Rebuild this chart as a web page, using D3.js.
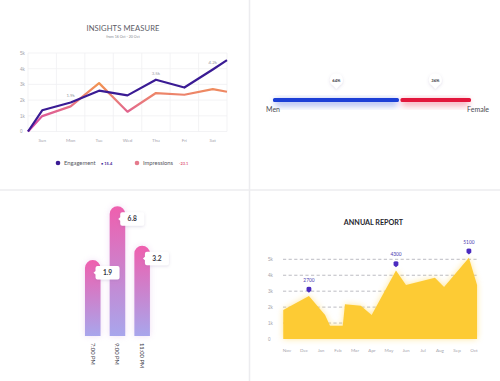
<!DOCTYPE html>
<html>
<head>
<meta charset="utf-8">
<script src="https://cdn.jsdelivr.net/npm/d3@7"></script>
<style>
  html, body { margin: 0; padding: 0; background: #ffffff; }
  svg { display: block; font-family: Lato, "Open Sans", sans-serif; }
</style>
</head>
<body>
<div id="chart"></div>
<script>
// insights measure (top left)
const days = ["Sun", "Mon", "Tue", "Wed", "Thu", "Fri", "Sat"];
const insightSteps = [0, 0.5, 1.5, 2.5, 3.5, 4.5, 5.5, 6.5, 7];
const engagement = [0, 1.35, 1.85, 2.6, 2.3, 3.3, 2.8, 3.95, 4.55];
const impressions = [0, 0.98, 1.6, 3.08, 1.26, 2.45, 2.34, 2.7, 2.53];
const insightTicks = [0, 1, 2, 3, 4, 5];
const insightNotes = [
  { step: 1.5, value: 1.85, label: "1.9k" },
  { step: 4.5, value: 3.3, label: "3.5k" },
  { step: 6.5, value: 3.95, label: "4.2k" }
];
const legendItems = [
  { name: "Engagement", delta: "15.4" },
  { name: "Impressions", delta: "-23.1" }
];

// gender split (top right)
const genders = ["Men", "Female"];
const genderShares = [64, 36];

// evening bars (bottom left)
const times = ["7:00 PM", "9:00 PM", "11:00 PM"];
const timeValues = [1.9, 6.8, 3.2];

// annual report (bottom right)
const months = ["Nov", "Dec", "Jan", "Feb", "Mar", "Apr", "May", "Jun", "Jul", "Aug", "Sep", "Oct"];
const annualSteps = [-0.22, 1.29, 2.24, 2.53, 3.28, 3.41, 4.34, 4.98, 6.41, 7.0, 8.7, 9.24, 10.7, 11.18];
const annualValues = [1.82, 2.7, 1.5, 0.83, 0.83, 2.18, 2.09, 1.5, 4.3, 3.39, 3.85, 3.26, 5.1, 3.39];
const annualTicks = [0, 1, 2, 3, 4, 5];
const annualPeaks = [
  { index: 1, label: "2700" },
  { index: 8, label: "4300" },
  { index: 12, label: "5100" }
];

const kLabel = (v) => v === 0 ? "0" : `${v}k`;

const svg = d3.select("#chart")
  .append("svg")
  .attr("width", 500)
  .attr("height", 381);

const defs = svg.append("defs");

function blurFilter(id, dev) {
  defs.append("filter")
    .attr("id", id)
    .attr("x", "-50%").attr("y", "-50%")
    .attr("width", "200%").attr("height", "200%")
    .append("feGaussianBlur")
    .attr("stdDeviation", dev);
}
blurFilter("soft", 3);
blurFilter("softer", 2);

const shadow = defs.append("filter")
  .attr("id", "cardShadow")
  .attr("x", "-60%").attr("y", "-60%")
  .attr("width", "220%").attr("height", "220%");
shadow.append("feDropShadow")
  .attr("dx", 0).attr("dy", 1)
  .attr("stdDeviation", 1.6)
  .attr("flood-color", "#7a6aa0")
  .attr("flood-opacity", 0.22);

// panel separators
svg.append("line")
  .attr("x1", 249.5).attr("x2", 249.5)
  .attr("y1", 0).attr("y2", 381)
  .attr("stroke", "#ececef").attr("stroke-width", 1.5);
svg.append("line")
  .attr("x1", 0).attr("x2", 500)
  .attr("y1", 190).attr("y2", 190)
  .attr("stroke", "#ececef").attr("stroke-width", 1.5);

// ---------- INSIGHTS MEASURE ----------
{
  const g = svg.append("g");
  const x = d3.scaleLinear().domain([0, 7]).range([28, 227]);
  const y = d3.scaleLinear().domain([0, 5]).range([131.5, 53]);

  g.append("text")
    .attr("x", 123).attr("y", 31)
    .attr("text-anchor", "middle")
    .attr("font-size", 7.6).attr("fill", "#5c5c66")
    .attr("letter-spacing", 0.1)
    .text("INSIGHTS MEASURE");
  g.append("text")
    .attr("x", 123).attr("y", 37.5)
    .attr("text-anchor", "middle")
    .attr("font-size", 3.6).attr("fill", "#8a8a92")
    .text("from 16 Oct - 20 Oct");

  // grid
  g.append("g")
    .selectAll("line")
    .data(insightTicks)
    .join("line")
    .attr("x1", x(0)).attr("x2", x(7))
    .attr("y1", (d) => y(d)).attr("y2", (d) => y(d))
    .attr("stroke", "#f0f0f3").attr("stroke-width", 0.8);
  g.append("g")
    .selectAll("line")
    .data(d3.range(0, 8))
    .join("line")
    .attr("x1", (d) => x(d)).attr("x2", (d) => x(d))
    .attr("y1", y(5)).attr("y2", y(0))
    .attr("stroke", "#f0f0f3").attr("stroke-width", 0.8);

  g.append("g")
    .attr("transform", `translate(${x(0) - 8},0)`)
    .call(d3.axisLeft(y).tickValues(insightTicks).tickFormat(kLabel).tickSize(0))
    .call((a) => a.select(".domain").remove())
    .call((a) => a.selectAll("text")
      .attr("fill", "#a4a4ac")
      .attr("font-size", 4.6)
      .attr("text-anchor", "start")
      .attr("x", 0));

  g.append("g")
    .selectAll("text")
    .data(days)
    .join("text")
    .attr("x", (d, i) => x(i + 0.5))
    .attr("y", 142)
    .attr("text-anchor", "middle")
    .attr("font-size", 4.6).attr("fill", "#a4a4ac")
    .text((d) => d);

  const impGrad = defs.append("linearGradient")
    .attr("id", "impGrad")
    .attr("gradientUnits", "userSpaceOnUse")
    .attr("x1", 0).attr("x2", 0)
    .attr("y1", y(3.1)).attr("y2", y(0));
  impGrad.append("stop").attr("offset", 0).attr("stop-color", "#f2944f");
  impGrad.append("stop").attr("offset", 0.4).attr("stop-color", "#e8787e");
  impGrad.append("stop").attr("offset", 1).attr("stop-color", "#d23bb0");

  const line = d3.line()
    .x((d, i) => x(insightSteps[i]))
    .y((d) => y(d));

  g.append("path")
    .datum(impressions)
    .attr("d", line)
    .attr("fill", "none")
    .attr("stroke", "url(#impGrad)")
    .attr("stroke-width", 2.2)
    .attr("stroke-linejoin", "round");

  g.append("path")
    .datum(engagement)
    .attr("d", line)
    .attr("fill", "none")
    .attr("stroke", "#3a1b94")
    .attr("stroke-width", 2.2)
    .attr("stroke-linejoin", "round");

  g.append("g")
    .selectAll("text")
    .data(insightNotes)
    .join("text")
    .attr("x", (d) => x(d.step))
    .attr("y", (d) => y(d.value) - 5)
    .attr("text-anchor", "middle")
    .attr("font-size", 4.4).attr("fill", "#9a9aa2")
    .text((d) => d.label);

  // legend
  const legendColors = ["#3a1b94", "#e57a8c"];
  const deltaColors = ["#3a1b94", "#e0607a"];
  const legendX = [58, 137];
  const legend = g.append("g")
    .selectAll("g")
    .data(legendItems)
    .join("g")
    .attr("transform", (d, i) => `translate(${legendX[i]},163)`);
  legend.append("circle")
    .attr("r", 2.3)
    .attr("fill", (d, i) => legendColors[i]);
  legend.append("text")
    .attr("x", 6).attr("y", 2)
    .attr("font-size", 5.8).attr("fill", "#55555e")
    .text((d) => d.name);
  legend.append("text")
    .attr("x", (d, i) => i === 0 ? 43 : 42).attr("y", 1.7)
    .attr("font-size", 4).attr("font-weight", 700)
    .attr("fill", (d, i) => deltaColors[i])
    .text((d, i) => i === 0 ? `• ${d.delta}` : d.delta);
}

// ---------- GENDER SPLIT ----------
{
  const g = svg.append("g");
  const x = d3.scaleLinear().domain([0, 100]).range([273, 471]);
  const barY = 100;
  const colors = ["#1c3fd6", "#e2163c"];
  const segments = genderShares.map((v, i) => {
    const start = d3.sum(genderShares.slice(0, i));
    return { label: genders[i], share: v, start, end: start + v, color: colors[i] };
  });

  // glow under the bar
  g.append("g")
    .attr("filter", "url(#soft)")
    .attr("opacity", 0.35)
    .selectAll("rect")
    .data(segments)
    .join("rect")
    .attr("x", (d) => x(d.start) + 2)
    .attr("y", barY - 1)
    .attr("width", (d) => x(d.end) - x(d.start) - 4)
    .attr("height", 7)
    .attr("fill", (d) => d.color);

  g.append("g")
    .selectAll("rect")
    .data(segments)
    .join("rect")
    .attr("x", (d, i) => x(d.start) + (i > 0 ? 0.8 : 0))
    .attr("y", barY - 2)
    .attr("width", (d, i) => x(d.end) - x(d.start) - 0.8)
    .attr("height", 4)
    .attr("rx", (d, i) => 1.5)
    .attr("fill", (d) => d.color);

  const pins = g.append("g")
    .selectAll("g")
    .data(segments)
    .join("g")
    .attr("transform", (d) => `translate(${x((d.start + d.end) / 2)},80)`);
  pins.append("path")
    .attr("d", "M -6.5 0 A 6.5 6.5 0 1 1 3.2 5.6 L 0 9 L -3.2 5.6 A 6.5 6.5 0 0 1 -6.5 0 Z")
    .attr("fill", "#ffffff")
    .attr("filter", "url(#cardShadow)");
  pins.append("text")
    .attr("y", 1.5)
    .attr("text-anchor", "middle")
    .attr("font-size", 4.2).attr("font-weight", 700)
    .attr("fill", "#3a3a44")
    .text((d) => `${d.share}%`);

  g.append("text")
    .attr("x", 266).attr("y", 112)
    .attr("font-size", 7).attr("fill", "#4a4a52")
    .text(genders[0]);
  g.append("text")
    .attr("x", 489).attr("y", 112)
    .attr("text-anchor", "end")
    .attr("font-size", 7).attr("fill", "#4a4a52")
    .text(genders[1]);
}

// ---------- EVENING BARS ----------
{
  const g = svg.append("g");
  const bottom = 336;
  const x = d3.scaleBand()
    .domain(times)
    .range([80.4, 154.5])
    .paddingInner(0.37)
    .paddingOuter(0.185);
  const y = d3.scaleLinear().domain([-5, 7]).range([bottom, bottom - 132]);

  const barGrad = defs.append("linearGradient")
    .attr("id", "barGrad")
    .attr("x1", 0).attr("x2", 0)
    .attr("y1", 0).attr("y2", 1);
  barGrad.append("stop").attr("offset", 0).attr("stop-color", "#ef5fae");
  barGrad.append("stop").attr("offset", 1).attr("stop-color", "#a8a6ec");

  const bw = x.bandwidth();
  const barPath = (d) => {
    const x0 = x(d.t);
    const top = y(d.v);
    const r = bw / 2;
    return `M ${x0} ${bottom} V ${top + r} A ${r} ${r} 0 0 1 ${x0 + bw} ${top + r} V ${bottom} Z`;
  };
  const bars = times.map((t, i) => ({ t, v: timeValues[i] }));

  g.append("g")
    .attr("filter", "url(#soft)")
    .attr("opacity", 0.25)
    .selectAll("path")
    .data(bars)
    .join("path")
    .attr("d", barPath)
    .attr("fill", "#c77fd8");

  g.append("g")
    .selectAll("path")
    .data(bars)
    .join("path")
    .attr("d", barPath)
    .attr("fill", "url(#barGrad)");

  const tips = g.append("g")
    .selectAll("g")
    .data(bars)
    .join("g")
    .attr("transform", (d) => `translate(${x(d.t) + bw - 5},${y(d.v) + 6})`);
  tips.append("path")
    .attr("d", "M 2 0 H 22 Q 24 0 24 2 V 11.5 Q 24 13.5 22 13.5 H 2 Q 0 13.5 0 11.5 V 8.5 L -2 6.75 L 0 5 V 2 Q 0 0 2 0 Z")
    .attr("fill", "#ffffff")
    .attr("filter", "url(#cardShadow)");
  tips.append("text")
    .attr("x", 12).attr("y", 9.2)
    .attr("text-anchor", "middle")
    .attr("font-size", 6.6).attr("font-weight", 700)
    .attr("fill", "#33333d")
    .text((d) => d.v.toFixed(1));

  g.append("g")
    .selectAll("text")
    .data(times)
    .join("text")
    .attr("transform", (d) => `translate(${x(d) + bw / 2 - 2},343) rotate(90)`)
    .attr("font-size", 5.8).attr("fill", "#3a3a48")
    .text((d) => d);
}

// ---------- ANNUAL REPORT ----------
{
  const g = svg.append("g");
  const x = d3.scaleLinear().domain([0, 11]).range([287, 474]);
  const y = d3.scaleLinear().domain([0, 5]).range([339, 259.3]);
  const left = 283;
  const right = 477;

  g.append("text")
    .attr("x", 373.5).attr("y", 225)
    .attr("text-anchor", "middle")
    .attr("font-size", 7.2).attr("font-weight", 700)
    .attr("fill", "#26262e")
    .text("ANNUAL REPORT");

  g.append("g")
    .attr("transform", "translate(268,0)")
    .call(d3.axisLeft(y).tickValues(annualTicks).tickFormat(kLabel).tickSize(0))
    .call((a) => a.select(".domain").remove())
    .call((a) => a.selectAll("text")
      .attr("fill", "#a4a4ac")
      .attr("font-size", 4.6)
      .attr("text-anchor", "start")
      .attr("x", 0));

  g.append("g")
    .selectAll("line")
    .data(annualTicks.filter((d) => d > 0))
    .join("line")
    .attr("x1", left).attr("x2", right)
    .attr("y1", (d) => y(d)).attr("y2", (d) => y(d))
    .attr("stroke", "#b4b4bc")
    .attr("stroke-width", 0.9)
    .attr("stroke-dasharray", "3.2 2.4");

  const area = d3.area()
    .x((d, i) => x(annualSteps[i]))
    .y0(y(0))
    .y1((d) => y(d));

  g.append("path")
    .datum(annualValues)
    .attr("d", area)
    .attr("fill", "#ffd24a")
    .attr("opacity", 0.55)
    .attr("filter", "url(#soft)");

  g.append("path")
    .datum(annualValues)
    .attr("d", area)
    .attr("fill", "#fdcb34");

  g.append("g")
    .selectAll("text")
    .data(months)
    .join("text")
    .attr("x", (d, i) => x(i))
    .attr("y", 352)
    .attr("text-anchor", "middle")
    .attr("font-size", 4.6).attr("fill", "#a4a4ac")
    .text((d) => d);

  const peaks = g.append("g")
    .selectAll("g")
    .data(annualPeaks)
    .join("g")
    .attr("transform", (d) => `translate(${x(annualSteps[d.index])},${y(annualValues[d.index]) - 6})`);
  peaks.append("path")
    .attr("d", "M -2.4 -2 Q -2.4 -3.2 0 -3.2 Q 2.4 -3.2 2.4 -2 V 0.8 L 0 2.8 L -2.4 0.8 Z")
    .attr("fill", "#4b2bbf");
  peaks.append("text")
    .attr("y", -8)
    .attr("text-anchor", "middle")
    .attr("font-size", 4.8).attr("fill", "#4b3bb0")
    .text((d) => d.label);
}
</script>
</body>
</html>
